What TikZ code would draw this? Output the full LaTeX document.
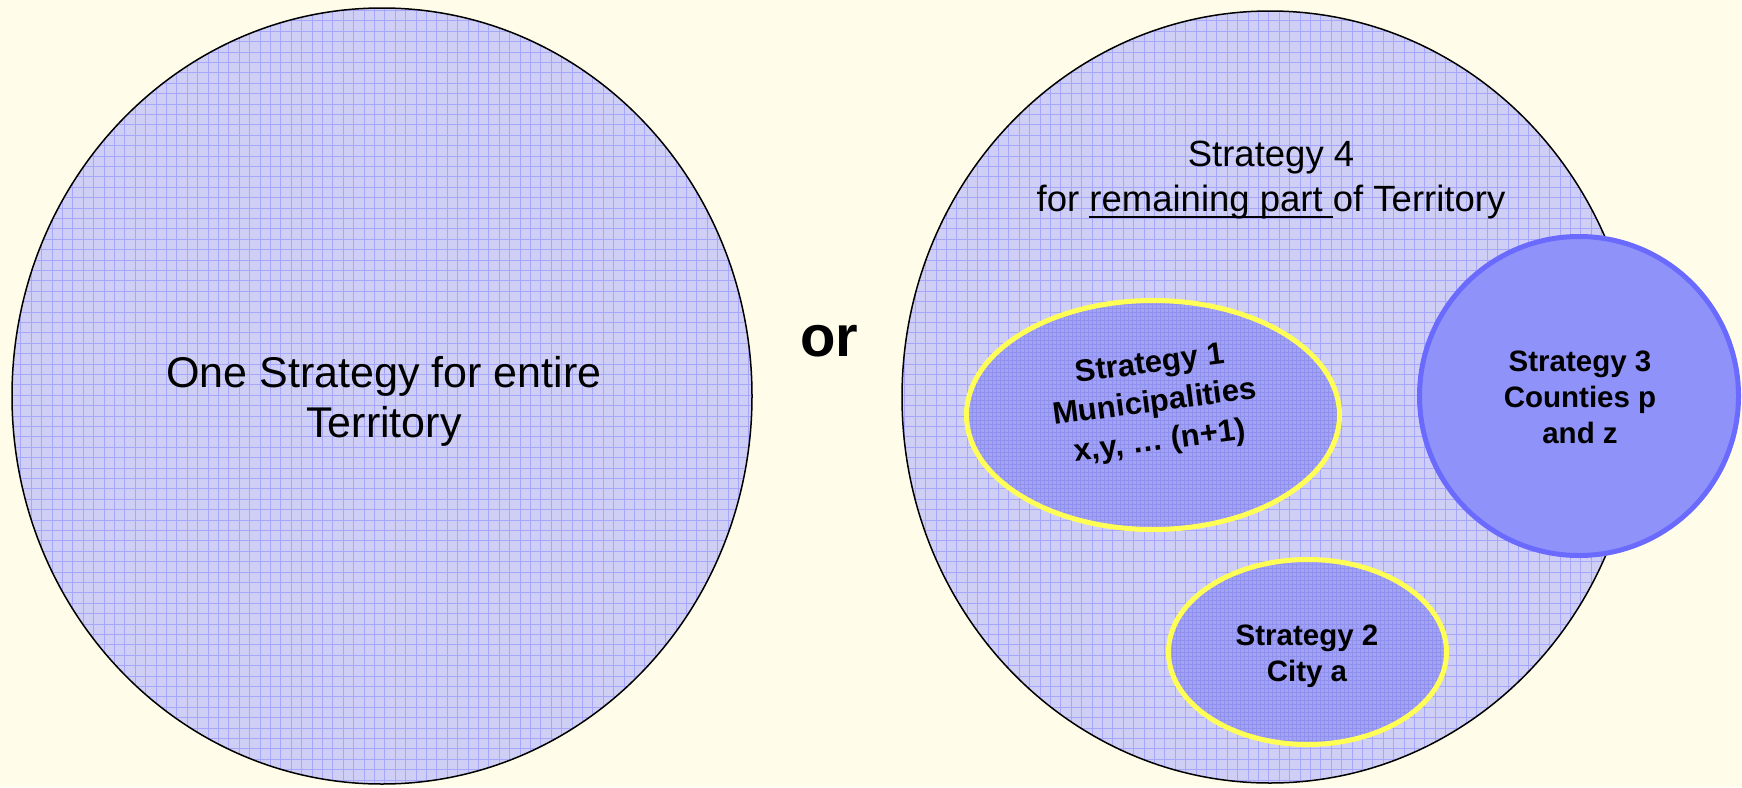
\documentclass[tikz,border=0pt]{standalone}
\usepackage{fontspec}
\setmainfont{Liberation Sans}

\definecolor{bgcream}{HTML}{FFFDE9}
\definecolor{lavfill}{HTML}{CFCFF5}
\definecolor{lavgrid}{HTML}{A6A6FA}
\definecolor{densefill}{HTML}{A2A3F2}
\definecolor{densegrid}{HTML}{9091EF}
\definecolor{ringyellow}{HTML}{FFFF55}
\definecolor{countyfill}{HTML}{8F93F9}
\definecolor{countyline}{HTML}{6A6AFF}

% underline that runs through the descenders
\newcommand\partline[1]{\setbox0\hbox{#1}\rlap{\rule[-7pt]{\wd0}{2pt}}\box0}

\begin{document}
\begin{tikzpicture}[x=1pt,y=-1pt,
    wholearea/.style={fill=lavfill},
    areagrid/.style={draw=lavgrid, line width=0.8pt},
    subarea/.style={fill=densefill},
    subgrid/.style={draw=densegrid, line width=0.6pt},
    ring/.style={draw=ringyellow, line width=5pt},
    bigtext/.style={font=\fontsize{43}{50}\selectfont, align=center},
    resttext/.style={font=\fontsize{36.5}{45}\selectfont, align=center},
    stratname/.style={font=\bfseries\fontsize{29.5}{36}\selectfont, align=center}]
% Background
\fill[bgcream] (0,0) rectangle (1742,787);
\useasboundingbox (0,0) rectangle (1742,787);

% Left territory
\fill[wholearea] (382,396) ellipse[x radius=370, y radius=388];
\begin{scope}
\clip (382,396) ellipse[x radius=370, y radius=388];
\draw[areagrid, step=10.4pt] (0,0) grid (1742,787);
\end{scope}
\draw[line width=1.5pt] (382,396) ellipse[x radius=370, y radius=388];

% Right territory
\fill[wholearea] (1270,397) ellipse[x radius=368, y radius=386];
\begin{scope}
\clip (1270,397) ellipse[x radius=368, y radius=386];
\draw[areagrid, step=10.4pt] (0,0) grid (1742,787);
\end{scope}
\draw[line width=1.5pt] (1270,397) ellipse[x radius=368, y radius=386];

% Municipalities
\fill[subarea] (1153,415) ellipse[x radius=186.5, y radius=114.5];
\begin{scope}
\clip (1153,415) ellipse[x radius=186.5, y radius=114.5];
\draw[subgrid, step=4pt] (900,280) grid (1400,560);
\end{scope}
\draw[ring] (1153,415) ellipse[x radius=186.5, y radius=114.5];

% City
\fill[subarea] (1307.5,652) ellipse[x radius=139, y radius=92.5];
\begin{scope}
\clip (1307.5,652) ellipse[x radius=139, y radius=92.5];
\draw[subgrid, step=4pt] (1150,540) grid (1470,760);
\end{scope}
\draw[ring] (1307.5,652) ellipse[x radius=139, y radius=92.5];

% Counties
\draw[draw=countyline, fill=countyfill, line width=5pt] (1579,396) circle[radius=159.5];

% Texts
\node[bigtext] (whole) at (384,401) {One Strategy for entire\\Territory};
\node[font=\bfseries\fontsize{58}{60}\selectfont] (or) at (829,341) {or};
\node[resttext] (rest) at (1271,180) {Strategy 4\\for \partline{remaining part\ }of Territory};
\node[stratname, font=\bfseries\fontsize{31}{39}\selectfont, rotate=7.5] (muni) at (1155,404) {Strategy 1\\Municipalities\\x,y, … (n+1)};
\node[stratname] (city) at (1307,656) {Strategy 2\\City a};
\node[stratname] (county) at (1580,397) {Strategy 3\\Counties p\\and z};
\end{tikzpicture}
\end{document}
